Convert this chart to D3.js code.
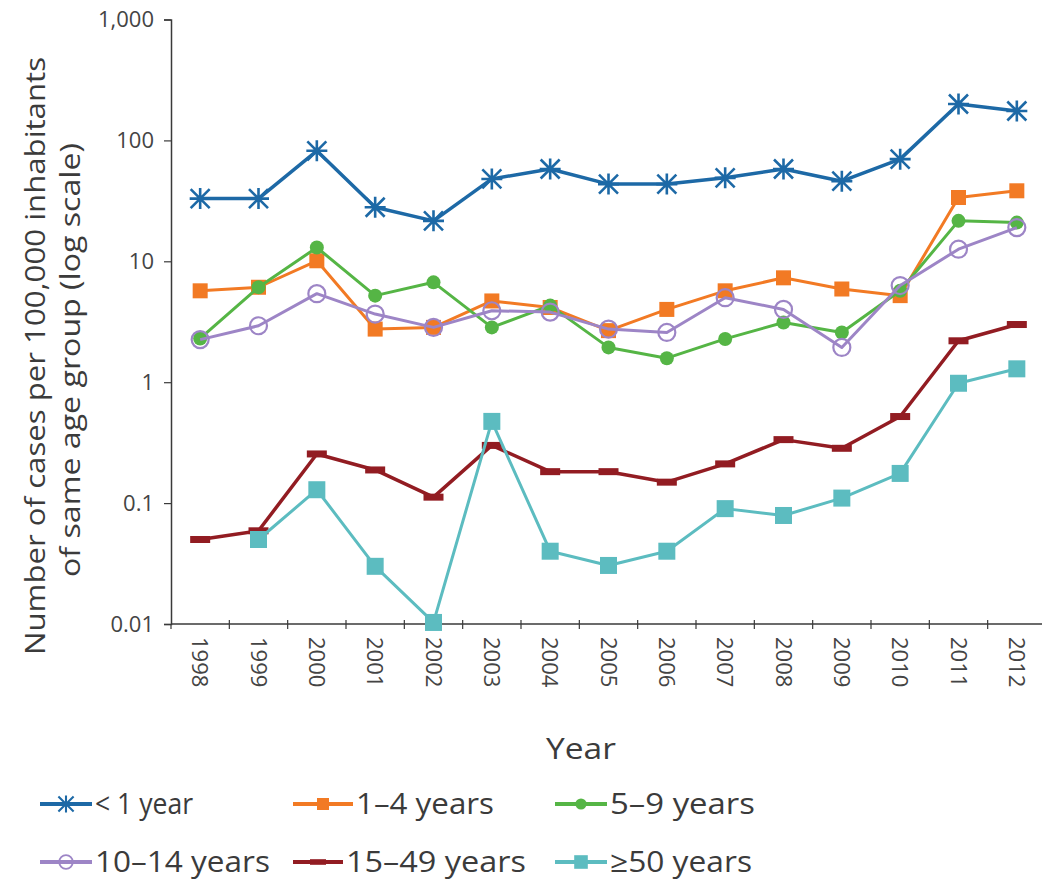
<!DOCTYPE html>
<html>
<head>
<meta charset="utf-8">
<script src="https://cdn.jsdelivr.net/npm/d3@7"></script>
<style>
  html, body { margin: 0; padding: 0; background: #fff; }
  svg { display: block; font-family: "Open Sans", "Noto Sans", sans-serif; }
</style>
</head>
<body>
<svg id="chart" width="1042" height="880"></svg>
<script>
// Incidence per 100,000 inhabitants of the same age group, 1998–2012
const years = ["1998","1999","2000","2001","2002","2003","2004","2005","2006","2007","2008","2009","2010","2011","2012"];

const under1   = [33, 33, 82, 28, 21.6, 48, 58, 43.5, 43.5, 49, 58, 46, 70, 200, 175];
const age1to4  = [5.7, 6.1, 10.1, 2.75, 2.84, 4.7, 4.15, 2.67, 4.0, 5.7, 7.3, 5.9, 5.2, 33.7, 38.3];
const age5to9  = [2.3, 6.1, 13, 5.2, 6.7, 2.84, 4.3, 1.94, 1.58, 2.28, 3.12, 2.58, 5.7, 21.6, 20.9];
const age10to14 = [2.25, 2.93, 5.4, 3.66, 2.84, 3.9, 3.8, 2.75, 2.58, 5.0, 4.0, 1.94, 6.3, 12.6, 19];
const age15to49 = [0.05, 0.059, 0.255, 0.188, 0.112, 0.3, 0.182, 0.182, 0.149, 0.211, 0.335, 0.284, 0.52, 2.2, 3.0];
const age50plus = [null, 0.05, 0.129, 0.03, 0.0103, 0.474, 0.04, 0.0305, 0.04, 0.09, 0.079, 0.11, 0.176, 0.98, 1.29];

const yTicks = [0.01, 0.1, 1, 10, 100, 1000];
const yTickLabels = ["0.01", "0.1", "1", "10", "100", "1,000"];

const seriesNames = ["< 1 year", "1–4 years", "5–9 years", "10–14 years", "15–49 years", "≥50 years"];

const series = [
  { name: seriesNames[0], values: under1,    color: "#1d69a6", marker: "star",   width: 3.5 },
  { name: seriesNames[1], values: age1to4,   color: "#f27a24", marker: "square", width: 3 },
  { name: seriesNames[2], values: age5to9,   color: "#55b545", marker: "dot",    width: 3 },
  { name: seriesNames[3], values: age10to14, color: "#9d85c6", marker: "ring",   width: 3 },
  { name: seriesNames[4], values: age15to49, color: "#921c22", marker: "dash",   width: 3.5 },
  { name: seriesNames[5], values: age50plus, color: "#5cbcc0", marker: "bigsquare", width: 3 }
];

const svg = d3.select("#chart");

const plot = { left: 171, right: 1046, top: 19.5, bottom: 624 };

const x = d3.scalePoint().domain(years).range([plot.left, plot.right]).padding(0.5);
const y = d3.scaleLog().domain([0.01, 1000]).range([plot.bottom, plot.top]);

const axisColor = "#3a3a3a";
const textColor = "#3b3b3b";

// y axis
const yAxis = svg.append("g")
  .attr("transform", `translate(${plot.left},0)`)
  .call(d3.axisLeft(y).tickValues(yTicks)
    .tickFormat((d, i) => yTickLabels[i]).tickSize(7).tickPadding(10));
yAxis.select(".domain").attr("stroke", axisColor).attr("stroke-width", 1.5);
yAxis.selectAll(".tick line").attr("stroke", axisColor).attr("stroke-width", 1.2);
yAxis.selectAll(".tick text")
  .attr("fill", "#444").style("font-size", "22px")
  .style("font-family", "'Open Sans', sans-serif");

// x axis line with boundary ticks between years
const xAxisG = svg.append("g").attr("class", "x-axis");
xAxisG.append("line")
  .attr("x1", plot.left).attr("x2", 1042)
  .attr("y1", plot.bottom).attr("y2", plot.bottom)
  .attr("stroke", axisColor).attr("stroke-width", 1.5);
const step = x.step();
xAxisG.selectAll("line.bound")
  .data(years.slice(1))
  .join("line")
  .attr("class", "bound")
  .attr("x1", d => x(d) - step / 2).attr("x2", d => x(d) - step / 2)
  .attr("y1", plot.bottom - 4).attr("y2", plot.bottom + 5)
  .attr("stroke", axisColor).attr("stroke-width", 1.2);
xAxisG.append("line")
  .attr("x1", plot.left).attr("x2", plot.left)
  .attr("y1", plot.bottom).attr("y2", plot.bottom + 5)
  .attr("stroke", axisColor).attr("stroke-width", 1.2);

xAxisG.selectAll("text.year")
  .data(years)
  .join("text")
  .attr("class", "year")
  .attr("transform", d => `translate(${x(d) - 8},637) rotate(90)`)
  .attr("text-anchor", "start")
  .attr("fill", "#444")
  .style("font-size", "22px")
  .text(d => d);

// axis titles
svg.append("text")
  .attr("transform", "translate(581,759)")
  .attr("text-anchor", "middle")
  .attr("fill", textColor)
  .style("font-size", "29px")
  .attr("textLength", 70).attr("lengthAdjust", "spacingAndGlyphs")
  .text("Year");

const yTitle = svg.append("g").attr("fill", textColor).style("font-size", "27px");
yTitle.append("text")
  .attr("transform", "translate(45,356) rotate(-90)")
  .attr("text-anchor", "middle")
  .attr("textLength", 598).attr("lengthAdjust", "spacingAndGlyphs")
  .text("Number of cases per 100,000 inhabitants");
yTitle.append("text")
  .attr("transform", "translate(80,360) rotate(-90)")
  .attr("text-anchor", "middle")
  .attr("textLength", 434).attr("lengthAdjust", "spacingAndGlyphs")
  .text("of same age group (log scale)");

// marker drawing
function drawMarker(g, type, color) {
  if (type === "star") {
    const r = 9.5;
    g.append("path")
      .attr("d", `M${-r},${-r}L${r},${r}M${-r},${r}L${r},${-r}M0,${-r - 1}L0,${r + 1}M${-r - 1},0L${r + 1},0`)
      .attr("stroke", color).attr("stroke-width", 2.6).attr("fill", "none");
  } else if (type === "square") {
    g.append("rect").attr("x", -7.5).attr("y", -7.5).attr("width", 15).attr("height", 15)
      .attr("fill", color);
  } else if (type === "bigsquare") {
    g.append("rect").attr("x", -8.5).attr("y", -8.5).attr("width", 17).attr("height", 17)
      .attr("fill", color);
  } else if (type === "dot") {
    g.append("circle").attr("r", 7).attr("fill", color);
  } else if (type === "ring") {
    g.append("circle").attr("r", 8.5).attr("fill", "none")
      .attr("stroke", color).attr("stroke-width", 2.2);
  } else if (type === "dash") {
    g.append("rect").attr("x", -10).attr("y", -3.5).attr("width", 20).attr("height", 7)
      .attr("fill", color);
  }
}

const line = d3.line()
  .defined(d => d.v != null)
  .x(d => x(d.year))
  .y(d => y(d.v));

const seriesG = svg.append("g");
series.forEach(s => {
  const pts = years.map((yr, i) => ({ year: yr, v: s.values[i] }));
  const g = seriesG.append("g");
  g.append("path")
    .datum(pts)
    .attr("d", line)
    .attr("fill", "none")
    .attr("stroke", s.color)
    .attr("stroke-width", s.width)
    .attr("stroke-linejoin", "round");
  pts.filter(p => p.v != null).forEach(p => {
    const m = g.append("g").attr("transform", `translate(${x(p.year)},${y(p.v)})`);
    drawMarker(m, s.marker, s.color);
  });
});

// legend
const legendPos = [
  { x: 40,  y: 804, tx: 95,  tw: 98 },
  { x: 293, y: 804, tx: 356, tw: 138 },
  { x: 555, y: 804, tx: 610, tw: 145 },
  { x: 40,  y: 862, tx: 95,  tw: 175 },
  { x: 293, y: 862, tx: 346, tw: 180 },
  { x: 555, y: 862, tx: 610, tw: 142 }
];
const legend = svg.append("g");
series.forEach((s, i) => {
  const p = legendPos[i];
  const g = legend.append("g");
  const sw = p.tx - p.x - 3;
  g.append("line")
    .attr("x1", p.x).attr("x2", p.x + sw)
    .attr("y1", p.y).attr("y2", p.y)
    .attr("stroke", s.color).attr("stroke-width", 4);
  const m = g.append("g").attr("transform", `translate(${p.x + sw / 2},${p.y}) scale(0.8)`);
  drawMarker(m, s.marker, s.color);
  g.append("text")
    .attr("x", p.tx).attr("y", p.y + 10)
    .attr("fill", textColor)
    .style("font-size", "29px")
    .attr("textLength", p.tw).attr("lengthAdjust", "spacingAndGlyphs")
    .text(s.name);
});
</script>
</body>
</html>
